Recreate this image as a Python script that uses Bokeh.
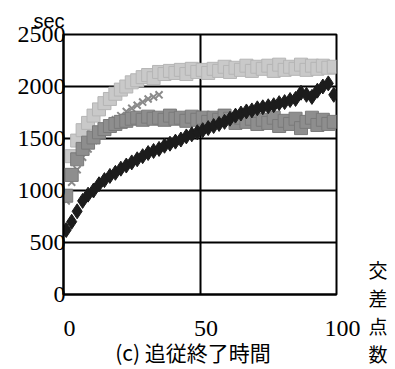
from bokeh.plotting import figure
from bokeh.models import Range1d, FixedTicker, Grid, Title, Div
from bokeh.layouts import row
from bokeh.embed import file_html
from bokeh.resources import INLINE

# ---- data ----
x_pts = list(range(1, 100, 2))

light_top = [1150, 1330, 1480, 1580, 1650, 1720, 1780, 1840, 1880, 1930,
             1970, 2000, 2040, 2060, 2090, 2110, 2080, 2140, 2120, 2150,
             2130, 2160, 2120, 2170, 2140, 2160, 2130, 2170, 2150, 2190,
             2140, 2180, 2160, 2200, 2150, 2190, 2170, 2200, 2150, 2210,
             2160, 2190, 2170, 2210, 2160, 2200, 2170, 2200, 2180, 2190]

cross_x = list(range(1, 37, 2))
cross_mid = [900, 1080, 1200, 1320, 1400, 1480, 1540, 1600, 1640, 1680,
             1720, 1760, 1790, 1820, 1850, 1880, 1900, 1920]

gray_mid = [950, 1150, 1300, 1400, 1460, 1510, 1560, 1590, 1620, 1640,
            1660, 1670, 1690, 1700, 1680, 1710, 1690, 1700, 1680, 1720,
            1690, 1700, 1670, 1710, 1680, 1700, 1660, 1700, 1680, 1720,
            1690, 1650, 1700, 1660, 1690, 1640, 1680, 1650, 1700, 1620,
            1670, 1640, 1690, 1600, 1660, 1700, 1630, 1680, 1640, 1660]

black_low = [620, 700, 800, 900, 960, 1000, 1060, 1100, 1140, 1170,
             1210, 1240, 1270, 1300, 1330, 1360, 1380, 1400, 1430, 1450,
             1470, 1490, 1520, 1540, 1560, 1580, 1600, 1620, 1640, 1660,
             1690, 1720, 1740, 1760, 1770, 1790, 1800, 1810, 1820, 1840,
             1850, 1870, 1880, 1940, 1920, 1900, 1960, 2000, 2030, 1920]

y_ticks = [0, 500, 1000, 1500, 2000, 2500]
x_ticks = [0, 50, 100]
side_chars = ["交", "差", "点", "数"]

# ---- main figure ----
p = figure(width=366, height=369, output_backend="svg", toolbar_location=None,
           x_range=Range1d(0, 100), y_range=Range1d(0, 2500),
           min_border_left=63, min_border_right=30,
           min_border_top=34, min_border_bottom=74)
p.grid.visible = False
p.outline_line_color = "black"
p.outline_line_width = 2
p.background_fill_color = "white"
p.border_fill_color = "white"

p.add_layout(Grid(dimension=0, ticker=FixedTicker(ticks=[50]),
                  grid_line_color="black", grid_line_width=2))
p.add_layout(Grid(dimension=1, ticker=FixedTicker(ticks=[500, 1000, 1500, 2000]),
                  grid_line_color="black", grid_line_width=2))

ya = p.yaxis[0]
ya.ticker = FixedTicker(ticks=y_ticks)
ya.axis_line_color = "black"
ya.axis_line_width = 2
ya.major_tick_out = 0
ya.major_tick_in = 0
ya.minor_tick_out = 0
ya.minor_tick_in = 0
ya.major_label_standoff = -2
ya.major_label_text_font = "Liberation Serif"
ya.major_label_text_font_size = "24px"
ya.major_label_text_color = "black"
ya.major_label_text_baseline = "top"

xa = p.xaxis[0]
xa.ticker = FixedTicker(ticks=x_ticks)
xa.axis_line_color = "black"
xa.axis_line_width = 2
xa.major_tick_out = 0
xa.major_tick_in = 0
xa.minor_tick_out = 0
xa.minor_tick_in = 0
xa.major_label_standoff = 20
xa.major_label_text_font = "Liberation Serif"
xa.major_label_text_font_size = "24px"
xa.major_label_text_color = "black"
xa.major_label_overrides = {t: "\u00a0\u00a0" + str(t) for t in x_ticks}
xa.axis_label = "(c)  追従終了時間\u00a0\u00a0"
xa.axis_label_text_font = "Noto Sans CJK JP"
xa.axis_label_text_font_size = "21px"
xa.axis_label_text_font_style = "normal"
xa.axis_label_text_color = "black"
xa.axis_label_standoff = -7

p.add_layout(Title(text="sec", align="left", offset=-30, standoff=6,
                   text_font="Liberation Sans", text_font_size="20px",
                   text_font_style="normal", text_color="black"), "above")

p.scatter(x_pts, light_top, marker="square", size=13,
          fill_color="#c9c9c9", line_color="#b5b5b5", line_width=1)
p.scatter(cross_x, cross_mid, marker="x", size=10,
          line_color="#8a8a8a", line_width=2)
p.scatter(x_pts, gray_mid, marker="square", size=13,
          fill_color="#8e8e8e", line_color="#7a7a7a", line_width=1)
p.scatter(x_pts, black_low, marker="diamond", size=15,
          fill_color="#1c1c1c", line_color="#1c1c1c", line_width=1)

# ---- vertical axis title on the right (stacked characters) ----
side_html = ('<div style="padding-top:256px; font-family:\'Noto Sans CJK JP\'; '
             'font-size:19px; line-height:28px; text-align:center; '
             'color:black; width:24px;">' + "<br>".join(side_chars) + '</div>')
side = Div(text=side_html, width=29, height=369, margin=0)

layout = row(p, side, spacing=0)
open("out.html", "w").write(file_html(layout, INLINE))
